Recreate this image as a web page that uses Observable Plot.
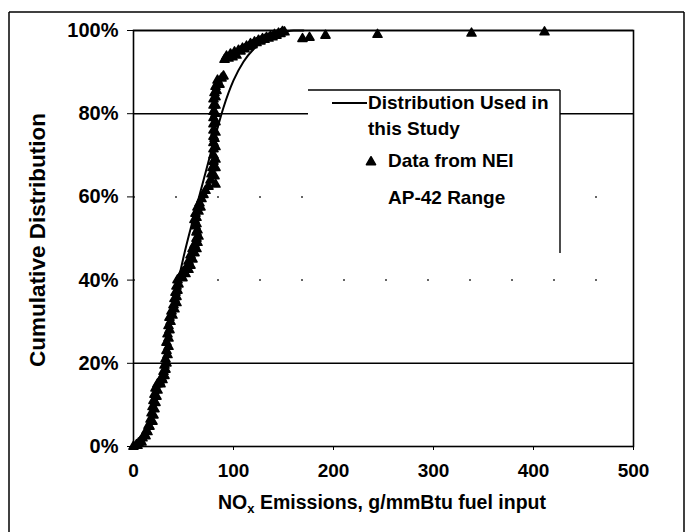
<!DOCTYPE html>
<html><head><meta charset="utf-8">
<script src="https://cdn.jsdelivr.net/npm/d3@7"></script>
<script src="https://cdn.jsdelivr.net/npm/@observablehq/plot@0.6"></script>
<style>body{margin:0;background:#fff} svg{display:block}</style>
</head><body><div id="chart"></div>
<script>
// Fitted distribution curve (x = g/mmBtu, y = cumulative %)
const curveX = [0, 10, 20, 30, 40, 50, 60, 70, 80, 90, 100, 110, 120, 130, 140, 150, 160, 170];
const curveY = [0, 2, 8, 19, 34, 45.5, 55, 64, 73, 81.5, 88, 92.5, 95.5, 97.5, 98.8, 99.5, 100, 100];

// NEI data points (triangles)
const neiX = [0,3,5,7,9,11,13,15,17,18,19,20,21,22,24,26,28,30,31,32,33,33,34,35,36,38,40,41,42,43,44,47,50,53,55,57,59,61,63,63,62,61,62,64,66,68,70,72,75,77,78,79,80,80,80,80,80,80,80,80,80,80,80,81,82,84,88,91,95,99,103,107,111,115,119,123,127,131,135,139,143,147,151,169,176,192,244,338,411,
  4,8,12,14,16,19,20,21,22,23,24,27,29,31,32,33,34,35,35,36,37,39,41,43,43,44,45,49,52,55,57,59,61,63,64,65,64,63,63,65,67,82,81,82,82,82,81,82,82,82,82,82,83,86,90,93,97,101,105,109,113,117,121,125,129,133,137,141,145,149];
const neiY = [0,0.4,0.8,1.3,2,2.8,3.8,5,6.5,8,9.5,11,12.5,14,15,15.6,16.5,18,19.5,21,23,25,27,29,31,32.5,34,35.5,37,38.5,40,41,42,43,44.5,46,47.5,48.5,50,51.5,53,54.5,56,57.5,58.5,59.5,60.5,61.5,62.5,64,65.5,67,68.5,70,71.5,73,74.5,76,77.5,79,80.5,82,83.5,85,86.5,88,88.5,93,93.3,93.6,94,95,95.5,96,96.5,97,97.4,97.8,98.1,98.4,98.8,99.2,99.6,98,98.3,98.8,99,99.3,99.6,
  0.2,1,2.5,3.5,4.8,6,7.5,9,10.5,12,13.5,15,16,17,18.5,20,22,24,26,28,30,31.5,33,34.5,36,37.5,39,40.5,41.5,42.5,43.5,45,46.5,47.5,49,50.5,52,53.5,55,56.5,57.5,63,65,67,69,72,74,75.5,78,80,82,84,85.5,87,89,93.8,94.3,94.8,95.2,95.7,96.2,96.8,97.2,97.6,98,98.3,98.6,99,99.3,99.7];

const xTicks = [0, 100, 200, 300, 400, 500];
const yTicks = [0, 20, 40, 60, 80, 100];
const solidGrid = [20, 80, 100];
const dottedGrid = [40, 60];
const legendLabels = ["Distribution Used in", "this Study", "Data from NEI", "AP-42 Range"];
const xTitleParts = ["NO", "x", " Emissions, g/mmBtu fuel input"];
const yTitle = "Cumulative Distribution";

const curve = curveX.map((x, i) => ({x, y: curveY[i]}));
const nei = neiX.map((x, i) => ({x, y: neiY[i]}));

const FONT = "'Liberation Sans', Arial, sans-serif";

const chart = Plot.plot({
  width: 690, height: 532,
  marginLeft: 133, marginRight: 57, marginTop: 30, marginBottom: 86,
  style: {fontFamily: FONT, fontSize: "19px", fontWeight: "bold", color: "black", background: "white", overflow: "visible"},
  x: {domain: [0, 500]},
  y: {domain: [0, 100]},
  marks: [
    Plot.ruleY(solidGrid, {stroke: "black", strokeWidth: 1.4}),
    Plot.ruleY(dottedGrid, {stroke: "black", strokeWidth: 1.5, strokeDasharray: "2,40", strokeOpacity: 0.8}),
    Plot.frame({stroke: "black", strokeWidth: 1.6}),
    Plot.axisX({ticks: xTicks, tickSize: 4, tickPadding: 13, label: null, fontSize: 19, fontWeight: "bold"}),
    Plot.axisY({ticks: yTicks, tickSize: 6, tickPadding: 9, tickFormat: d => d + "%", label: null, fontSize: 20, fontWeight: "bold"}),
    Plot.line(curve, {x: "x", y: "y", stroke: "black", strokeWidth: 2, curve: "monotone-x"}),
    Plot.dot(nei, {x: "x", y: "y", symbol: "triangle", fill: "black", stroke: "black", strokeWidth: 1.5, strokeLinejoin: "round", r: 3.4})
  ]
});

document.getElementById("chart").appendChild(chart);
const svg = d3.select(chart);

// outer figure border
const border = svg.append("g").attr("stroke", "black").attr("stroke-width", 1.5).attr("fill", "none");
border.append("line").attr("x1", 9).attr("x2", 684).attr("y1", 12).attr("y2", 12);
border.append("line").attr("x1", 9).attr("x2", 9).attr("y1", 12).attr("y2", 532);
border.append("line").attr("x1", 684).attr("x2", 684).attr("y1", 12).attr("y2", 532);

// axis titles
const xt = svg.append("text").attr("x", 382).attr("y", 509).attr("text-anchor", "middle")
  .attr("font-family", FONT).attr("font-size", 19.5).attr("font-weight", "bold").attr("fill", "black");
xt.append("tspan").text(xTitleParts[0]);
xt.append("tspan").attr("font-size", 13).attr("dy", 4).text(xTitleParts[1]);
xt.append("tspan").attr("dy", -4).text(xTitleParts[2]);

svg.append("text").attr("transform", "translate(45,240) rotate(-90)").attr("text-anchor", "middle")
  .attr("font-family", FONT).attr("font-size", 22.5).attr("font-weight", "bold").attr("fill", "black")
  .text(yTitle);

// legend
const lg = svg.append("g").attr("font-family", FONT).attr("font-size", 19).attr("font-weight", "bold").attr("text-anchor", "start");
lg.append("rect").attr("x", 308).attr("y", 90).attr("width", 252).attr("height", 163).attr("fill", "white");
lg.append("line").attr("x1", 308).attr("x2", 560).attr("y1", 90).attr("y2", 90).attr("stroke", "black").attr("stroke-width", 1.4);
lg.append("line").attr("x1", 560).attr("x2", 560).attr("y1", 90).attr("y2", 253).attr("stroke", "black").attr("stroke-width", 1.4);
lg.append("line").attr("x1", 332).attr("x2", 367).attr("y1", 103).attr("y2", 103).attr("stroke", "black").attr("stroke-width", 2);
lg.append("text").attr("x", 368).attr("y", 109).text(legendLabels[0]);
lg.append("text").attr("x", 368).attr("y", 135).text(legendLabels[1]);
lg.append("path").attr("d", d3.symbol(d3.symbolTriangle, Math.PI * 3.4 * 3.4)()).attr("transform", "translate(371,162)")
  .attr("fill", "black").attr("stroke", "black").attr("stroke-width", 1.5).attr("stroke-linejoin", "round");
lg.append("text").attr("x", 388).attr("y", 167).text(legendLabels[2]);
lg.append("text").attr("x", 388).attr("y", 204).text(legendLabels[3]);
</script>
</body></html>
